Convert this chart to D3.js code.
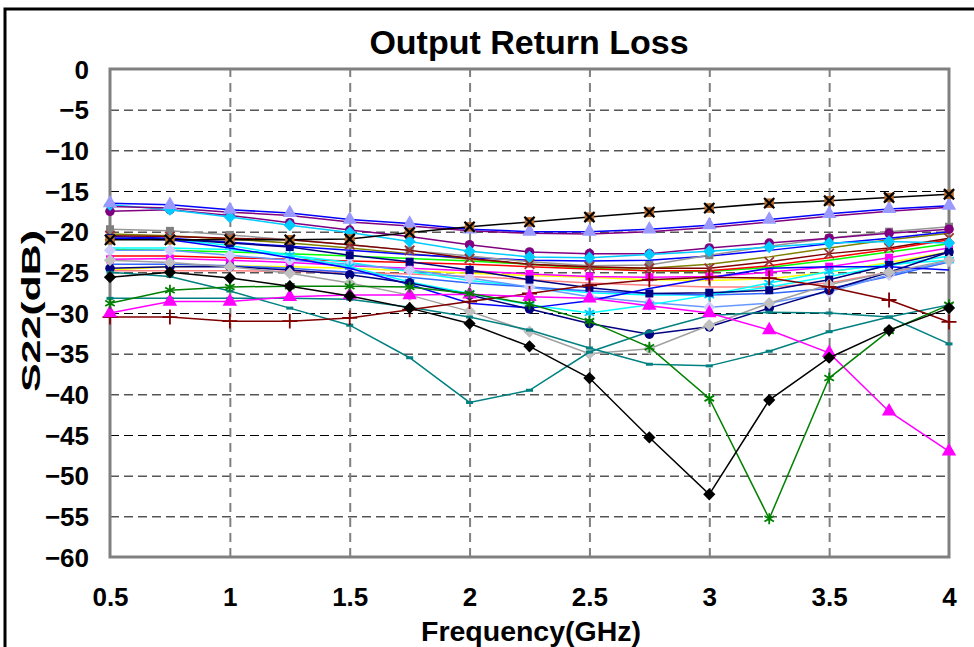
<!DOCTYPE html>
<html>
<head>
<meta charset="utf-8">
<script src="https://cdn.jsdelivr.net/npm/d3@7"></script>
<style>
  body { margin: 0; background: #fff; }
  text { font-family: "Liberation Sans", Arial, sans-serif; font-weight: bold; fill: #000; }
</style>
</head>
<body>
<svg id="chart" width="974" height="647"></svg>
<script>
// frequency points (GHz)
var freqs = [0.5, 0.75, 1.0, 1.25, 1.5, 1.75, 2.0, 2.25, 2.5, 2.75, 3.0, 3.25, 3.5, 3.75, 4.0];
var xTickValues = [0.5, 1, 1.5, 2, 2.5, 3, 3.5, 4];
var yTickValues = [-60, -55, -50, -45, -40, -35, -30, -25, -20, -15, -10, -5, 0];

// S22 (dB) per device
var blackSquareX = [-21.0, -21.0, -21.0, -21.0, -20.9, -20.1, -19.4, -18.8, -18.2, -17.6, -17.1, -16.5, -16.2, -15.8, -15.4];
var blueTriangle = [-16.5, -16.7, -17.3, -17.7, -18.5, -19.0, -19.7, -20.0, -20.0, -19.7, -19.2, -18.5, -17.8, -17.2, -16.8];
var purplePlain = [-16.9, -17.1, -17.6, -18.0, -18.8, -19.3, -19.9, -20.2, -20.3, -20.0, -19.5, -18.8, -18.1, -17.5, -17.0];
var purpleCircle = [-17.5, -17.3, -18.0, -18.9, -19.8, -20.6, -21.6, -22.5, -22.7, -22.7, -22.0, -21.4, -20.8, -20.2, -19.7];
var skyDiamond = [-16.7, -17.3, -18.2, -19.2, -20.1, -21.2, -22.4, -23.1, -23.2, -22.8, -22.4, -21.9, -21.4, -21.2, -21.4];
var graySquare = [-19.7, -19.9, -20.4, -21.0, -21.6, -22.3, -23.0, -23.7, -24.2, -24.1, -22.9, -21.8, -20.8, -20.0, -19.4];
var olivePlain = [-20.3, -20.5, -20.9, -21.4, -22.0, -22.7, -23.4, -24.0, -24.4, -24.5, -24.0, -23.1, -22.0, -21.0, -20.2];
var blueDip = [-20.8, -21.0, -22.0, -23.2, -24.5, -26.5, -28.8, -29.4, -28.5, -27.0, -25.7, -24.5, -24.3, -24.3, -24.7];
var bluePlain = [-20.6, -20.8, -21.3, -21.8, -22.3, -22.8, -23.2, -23.5, -23.6, -23.5, -23.0, -22.3, -21.5, -20.8, -20.0];
var navySquare = [-20.8, -20.9, -21.4, -21.9, -22.9, -23.7, -24.7, -25.9, -26.9, -27.6, -27.5, -27.2, -25.9, -24.1, -22.5];
var navyCircle = [-24.5, -24.3, -24.3, -24.7, -25.3, -26.3, -27.8, -29.5, -31.3, -32.6, -31.7, -29.4, -27.2, -25.0, -22.5];
var silverDiamond = [-23.5, -23.8, -24.3, -25.1, -26.3, -27.8, -29.8, -32.3, -35.0, -34.4, -31.5, -28.8, -26.5, -25.0, -23.5];
var lavenderDiamond = [-22.3, -22.3, -22.9, -23.5, -24.0, -24.7, -25.7, -26.8, -28.0, -28.7, -29.3, -28.8, -27.4, -25.3, -23.6];
var cyanStar = [-20.9, -20.9, -21.7, -22.9, -24.3, -26.2, -27.6, -29.0, -30.0, -29.0, -27.8, -26.3, -24.9, -24.0, -23.5];
var darkRedX = [-20.5, -20.6, -20.8, -21.0, -21.6, -22.3, -23.3, -24.0, -24.3, -24.5, -24.5, -23.7, -22.7, -22.0, -20.8];
var redPlain = [-23.0, -23.0, -23.2, -23.4, -23.6, -23.8, -24.0, -24.3, -24.6, -24.8, -24.8, -24.2, -23.2, -22.2, -21.0];
var limePlain = [-22.2, -22.3, -22.5, -22.7, -23.0, -23.3, -23.6, -24.0, -24.5, -24.8, -24.9, -24.4, -23.5, -22.5, -21.5];
var magentaSquare = [-23.4, -23.3, -23.5, -23.8, -24.2, -24.5, -24.8, -25.2, -25.5, -25.6, -25.5, -25.0, -24.3, -23.2, -22.0];
var yellowPlain = [-24.7, -24.3, -24.2, -24.3, -24.5, -24.8, -25.1, -25.4, -25.6, -25.9, -26.0, -25.8, -25.0, -23.8, -22.5];
var salmonPlain = [-24.8, -24.8, -24.8, -24.9, -25.0, -25.2, -25.5, -25.9, -26.3, -26.6, -26.8, -26.8, -26.3, -25.0, -23.8];
var cornflowerPlain = [-24.0, -24.0, -24.2, -24.5, -25.0, -25.6, -26.3, -26.8, -27.3, -27.6, -27.8, -27.6, -27.0, -25.5, -23.7];
var cyanPlain = [-22.0, -22.0, -22.2, -22.9, -23.8, -24.9, -26.0, -26.8, -27.5, -27.8, -27.8, -26.8, -25.5, -24.2, -23.0];
var tealDash = [-25.0, -25.5, -27.3, -29.4, -31.5, -35.5, -41.0, -39.5, -34.8, -32.3, -30.3, -29.9, -30.0, -30.5, -33.8];
var tealDash2 = [-28.2, -28.2, -28.2, -28.2, -28.3, -29.3, -30.5, -32.1, -34.3, -36.3, -36.5, -34.7, -32.3, -30.5, -29.0];
var darkRedPlus = [-30.5, -30.5, -31.0, -31.0, -30.6, -29.6, -28.6, -27.6, -26.6, -25.9, -25.6, -25.7, -26.8, -28.4, -31.1];
var magentaTriangle = [-30.0, -28.6, -28.6, -28.0, -27.8, -27.8, -27.7, -28.0, -28.2, -29.1, -30.0, -32.1, -34.9, -42.1, -47.0];
var greenStar = [-28.8, -27.2, -26.8, -26.7, -26.7, -26.8, -27.6, -28.9, -31.0, -34.2, -40.5, -55.3, -38.0, -32.2, -29.0];
var blackDiamond = [-25.6, -25.0, -25.7, -26.7, -27.9, -29.4, -31.3, -34.1, -38.0, -45.3, -52.3, -40.7, -35.5, -32.1, -29.4];

// look of each series (drawing order = list order)
var series = [
	{values: yellowPlain, line: "#FFFF00", marker: null},
	{values: salmonPlain, line: "#FF8080", marker: null},
	{values: limePlain, line: "#00FF00", marker: null},
	{values: redPlain, line: "#FF0000", marker: null},
	{values: olivePlain, line: "#808000", marker: null},
	{values: cyanPlain, line: "#00FFFF", marker: null},
	{values: cornflowerPlain, line: "#3366FF", marker: null},
	{values: bluePlain, line: "#0000FF", marker: null},
	{values: magentaSquare, line: "#FF00FF", marker: "square", fill: "#FF00FF"},
	{values: graySquare, line: "#969696", marker: "square", fill: "#808080"},
	{values: darkRedX, line: "#800000", marker: "x", fill: "#993333"},
	{values: lavenderDiamond, line: "#6699FF", marker: "diamond", fill: "#CCCCFF"},
	{values: cyanStar, line: "#00FFFF", marker: "asterisk", fill: "#00CCFF"},
	{values: navySquare, line: "#000080", marker: "square", fill: "#000080"},
	{values: blueDip, line: "#0000FF", marker: null},
	{values: navyCircle, line: "#000080", marker: "circle", fill: "#000080"},
	{values: silverDiamond, line: "#A0A0A0", marker: "diamond", fill: "#C0C0C0"},
	{values: purpleCircle, line: "#800080", marker: "circle", fill: "#800080"},
	{values: skyDiamond, line: "#00CCFF", marker: "diamond", fill: "#00CCFF"},
	{values: purplePlain, line: "#800080", marker: null},
	{values: blueTriangle, line: "#0000FF", marker: "triangle", fill: "#9999FF"},
	{values: blackSquareX, line: "#000000", marker: "squarex", fill: "#B86B2A"},
	{values: tealDash2, line: "#008080", marker: "dash", fill: "#008080"},
	{values: tealDash, line: "#008080", marker: "dash", fill: "#008080"},
	{values: darkRedPlus, line: "#800000", marker: "plus", fill: "#800000"},
	{values: magentaTriangle, line: "#FF00FF", marker: "triangle", fill: "#FF00FF"},
	{values: greenStar, line: "#008000", marker: "asterisk", fill: "#008000"},
	{values: blackDiamond, line: "#000000", marker: "diamond", fill: "#000000"}
];

var svg = d3.select("#chart");
var plotLeft = 110, plotRight = 949, plotTop = 69, plotBottom = 557;

var x = d3.scaleLinear().domain([0.5, 4]).range([plotLeft, plotRight]);
var y = d3.scaleLinear().domain([-60, 0]).range([plotBottom, plotTop]);

// outer chart frame
svg.append("rect")
	.attr("x", 5).attr("y", 9)
	.attr("width", 1000).attr("height", 700)
	.attr("fill", "none").attr("stroke", "#000").attr("stroke-width", 3);

// horizontal grid
svg.append("g")
	.attr("class", "hgrid")
	.attr("transform", "translate(" + plotLeft + ",0)")
	.call(d3.axisLeft(y).tickValues(yTickValues.slice(1, -1)).tickSize(-(plotRight - plotLeft)).tickFormat(""))
	.call(function(g) {
		g.select(".domain").remove();
		g.selectAll("line").attr("stroke", "#000").attr("stroke-width", 1).attr("stroke-dasharray", "9,5");
	});

// vertical grid
svg.append("g")
	.attr("class", "vgrid")
	.attr("transform", "translate(0," + plotBottom + ")")
	.call(d3.axisBottom(x).tickValues(xTickValues.slice(1, -1)).tickSize(-(plotBottom - plotTop)).tickFormat(""))
	.call(function(g) {
		g.select(".domain").remove();
		g.selectAll("line").attr("stroke", "#808080").attr("stroke-width", 2).attr("stroke-dasharray", "9,6");
	});

// small tick marks on the bottom axis
svg.append("g")
	.attr("transform", "translate(0," + plotBottom + ")")
	.call(d3.axisBottom(x).tickValues(xTickValues).tickSize(-6).tickFormat(""))
	.call(function(g) {
		g.select(".domain").remove();
		g.selectAll("line").attr("stroke", "#808080").attr("stroke-width", 1);
	});

// plot area border
svg.append("rect")
	.attr("x", plotLeft).attr("y", plotTop)
	.attr("width", plotRight - plotLeft).attr("height", plotBottom - plotTop)
	.attr("fill", "none").attr("stroke", "#808080").attr("stroke-width", 3);

// series lines
var line = d3.line()
	.x(function(d, i) { return x(freqs[i]); })
	.y(function(d) { return y(d); });

var plot = svg.append("g").attr("class", "series");

var symbolTypes = {
	square: d3.symbolSquare,
	circle: d3.symbolCircle,
	diamond: d3.symbolDiamond2 || d3.symbolDiamond,
	triangle: d3.symbolTriangle,
	x: d3.symbolTimes || d3.symbolX,
	asterisk: d3.symbolAsterisk || d3.symbolTimes,
	plus: d3.symbolPlus || d3.symbolCross
};
var symbolSizes = {square: 64, circle: 72, diamond: 95, triangle: 90, x: 60, asterisk: 85, plus: 75};

series.forEach(function(s) {
	var g = plot.append("g");
	g.append("path")
		.datum(s.values)
		.attr("d", line)
		.attr("fill", "none")
		.attr("stroke", s.line)
		.attr("stroke-width", 1.5);

	if (!s.marker) return;

	var pts = g.selectAll("g.pt")
		.data(s.values)
		.enter()
		.append("g")
			.attr("class", "pt")
			.attr("transform", function(d, i) { return "translate(" + x(freqs[i]) + "," + y(d) + ")"; });

	if (s.marker == "dash") {
		pts.append("rect")
			.attr("x", -3.5).attr("y", -1.5)
			.attr("width", 7).attr("height", 3)
			.attr("fill", s.fill);
	} else if (s.marker == "squarex") {
		pts.append("path")
			.attr("d", d3.symbol(d3.symbolSquare, 90))
			.attr("fill", s.fill);
		pts.append("path")
			.attr("d", d3.symbol(symbolTypes.x, 70))
			.attr("fill", "none")
			.attr("stroke", "#000")
			.attr("stroke-width", 2.2);
	} else {
		var stroked = (s.marker == "x" || s.marker == "asterisk" || s.marker == "plus");
		pts.append("path")
			.attr("d", d3.symbol(symbolTypes[s.marker], symbolSizes[s.marker]))
			.attr("fill", stroked ? "none" : s.fill)
			.attr("stroke", stroked ? s.fill : "none")
			.attr("stroke-width", stroked ? 1.8 : 0);
	}
});

// tick labels
svg.append("g")
	.attr("transform", "translate(" + (plotLeft - 21) + ",0)")
	.call(d3.axisLeft(y).tickValues(yTickValues).tickSize(0).tickPadding(0).tickFormat(d3.format("d")))
	.call(function(g) {
		g.select(".domain").remove();
		g.selectAll("text").attr("font-size", 26).attr("dy", "0.35em")
			.style("font-family", '"Liberation Sans", Arial, sans-serif').style("font-weight", "bold");
	});

svg.append("g")
	.attr("transform", "translate(0," + (plotBottom + 31) + ")")
	.call(d3.axisBottom(x).tickValues(xTickValues).tickSize(0).tickPadding(0).tickFormat(d3.format("")))
	.call(function(g) {
		g.select(".domain").remove();
		g.selectAll("text").attr("font-size", 26)
			.style("font-family", '"Liberation Sans", Arial, sans-serif').style("font-weight", "bold");
	});

// titles
svg.append("text")
	.attr("x", 529).attr("y", 54)
	.attr("text-anchor", "middle")
	.attr("font-size", 34)
	.text("Output Return Loss");

svg.append("text")
	.attr("x", 531).attr("y", 641)
	.attr("text-anchor", "middle")
	.attr("font-size", 28)
	.attr("textLength", 220)
	.attr("lengthAdjust", "spacingAndGlyphs")
	.text("Frequency(GHz)");

svg.append("text")
	.attr("transform", "translate(40,311) rotate(-90)")
	.attr("text-anchor", "middle")
	.attr("font-size", 26)
	.attr("textLength", 162)
	.attr("lengthAdjust", "spacingAndGlyphs")
	.text("S22(dB)");
</script>
</body>
</html>
